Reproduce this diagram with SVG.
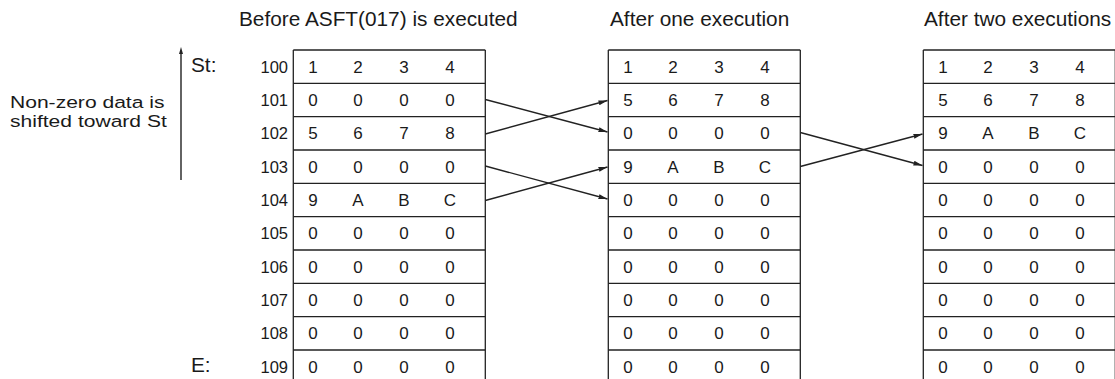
<svg xmlns="http://www.w3.org/2000/svg" width="1115" height="379" viewBox="0 0 1115 379">
<style>
text{font-family:"Liberation Sans",Arial,sans-serif;fill:#1a1a1a}
.t{font-size:20.8px}
.s{font-size:17px}
.c{font-size:17px;text-anchor:middle}
.a{font-size:16.5px;text-anchor:end}
.g{stroke:#222;stroke-width:1.3;fill:none}
.w{stroke:#222;stroke-width:1.4}
</style>
<defs>
<marker id="ah" markerWidth="10" markerHeight="6" refX="9" refY="3" orient="auto" markerUnits="userSpaceOnUse">
<path d="M0,0.5 L9,3 L0,5.5z" fill="#222"/>
</marker>
<g id="rows">
<line x1="0" y1="0" x2="192" y2="0"/>
<line x1="0" y1="33.33" x2="192" y2="33.33"/>
<line x1="0" y1="66.67" x2="192" y2="66.67"/>
<line x1="0" y1="100" x2="192" y2="100"/>
<line x1="0" y1="133.33" x2="192" y2="133.33"/>
<line x1="0" y1="166.67" x2="192" y2="166.67"/>
<line x1="0" y1="200" x2="192" y2="200"/>
<line x1="0" y1="233.33" x2="192" y2="233.33"/>
<line x1="0" y1="266.67" x2="192" y2="266.67"/>
<line x1="0" y1="300" x2="192" y2="300"/>
<line x1="0" y1="0" x2="0" y2="340"/>
<line x1="192" y1="0" x2="192" y2="340"/>
</g>
</defs>

<g id="titles">
<text class="t" x="239" y="26">Before ASFT(017) is executed</text>
<text class="t" x="610" y="26">After one execution</text>
<text class="t" x="924" y="26">After two executions</text>
</g>

<g id="side">
<g transform="translate(10,0) scale(1.24,1)">
<text class="s" x="0" y="108.5">Non-zero data is</text>
<text class="s" x="0" y="127.5">shifted toward St</text>
</g>
<line class="w" x1="181" y1="180" x2="181" y2="52"/>
<path d="M181,47 L179,54 L183,54z" fill="#222"/>
<text class="t" x="191" y="72">St:</text>
<text class="t" x="191" y="372">E:</text>
</g>

<g id="addresses">
<text class="a" x="288" y="73">100</text>
<text class="a" x="288" y="106">101</text>
<text class="a" x="288" y="139">102</text>
<text class="a" x="288" y="173">103</text>
<text class="a" x="288" y="206">104</text>
<text class="a" x="288" y="239">105</text>
<text class="a" x="288" y="273">106</text>
<text class="a" x="288" y="306">107</text>
<text class="a" x="288" y="339">108</text>
<text class="a" x="288" y="373">109</text>
</g>

<g id="table1">
<use href="#rows" x="293.3" y="50" class="g"/>
<g class="c">
<text x="313" y="73">1</text><text x="358" y="73">2</text><text x="404" y="73">3</text><text x="450" y="73">4</text>
<text x="313" y="106">0</text><text x="358" y="106">0</text><text x="404" y="106">0</text><text x="450" y="106">0</text>
<text x="313" y="139">5</text><text x="358" y="139">6</text><text x="404" y="139">7</text><text x="450" y="139">8</text>
<text x="313" y="173">0</text><text x="358" y="173">0</text><text x="404" y="173">0</text><text x="450" y="173">0</text>
<text x="313" y="206">9</text><text x="358" y="206">A</text><text x="404" y="206">B</text><text x="450" y="206">C</text>
<text x="313" y="239">0</text><text x="358" y="239">0</text><text x="404" y="239">0</text><text x="450" y="239">0</text>
<text x="313" y="273">0</text><text x="358" y="273">0</text><text x="404" y="273">0</text><text x="450" y="273">0</text>
<text x="313" y="306">0</text><text x="358" y="306">0</text><text x="404" y="306">0</text><text x="450" y="306">0</text>
<text x="313" y="339">0</text><text x="358" y="339">0</text><text x="404" y="339">0</text><text x="450" y="339">0</text>
<text x="313" y="373">0</text><text x="358" y="373">0</text><text x="404" y="373">0</text><text x="450" y="373">0</text>
</g>
</g>

<g id="table2">
<use href="#rows" x="608.3" y="50" class="g"/>
<g class="c">
<text x="628" y="73">1</text><text x="673" y="73">2</text><text x="719" y="73">3</text><text x="765" y="73">4</text>
<text x="628" y="106">5</text><text x="673" y="106">6</text><text x="719" y="106">7</text><text x="765" y="106">8</text>
<text x="628" y="139">0</text><text x="673" y="139">0</text><text x="719" y="139">0</text><text x="765" y="139">0</text>
<text x="628" y="173">9</text><text x="673" y="173">A</text><text x="719" y="173">B</text><text x="765" y="173">C</text>
<text x="628" y="206">0</text><text x="673" y="206">0</text><text x="719" y="206">0</text><text x="765" y="206">0</text>
<text x="628" y="239">0</text><text x="673" y="239">0</text><text x="719" y="239">0</text><text x="765" y="239">0</text>
<text x="628" y="273">0</text><text x="673" y="273">0</text><text x="719" y="273">0</text><text x="765" y="273">0</text>
<text x="628" y="306">0</text><text x="673" y="306">0</text><text x="719" y="306">0</text><text x="765" y="306">0</text>
<text x="628" y="339">0</text><text x="673" y="339">0</text><text x="719" y="339">0</text><text x="765" y="339">0</text>
<text x="628" y="373">0</text><text x="673" y="373">0</text><text x="719" y="373">0</text><text x="765" y="373">0</text>
</g>
</g>

<g id="table3">
<use href="#rows" x="923.3" y="50" class="g"/>
<g class="c">
<text x="943" y="73">1</text><text x="988" y="73">2</text><text x="1034" y="73">3</text><text x="1080" y="73">4</text>
<text x="943" y="106">5</text><text x="988" y="106">6</text><text x="1034" y="106">7</text><text x="1080" y="106">8</text>
<text x="943" y="139">9</text><text x="988" y="139">A</text><text x="1034" y="139">B</text><text x="1080" y="139">C</text>
<text x="943" y="173">0</text><text x="988" y="173">0</text><text x="1034" y="173">0</text><text x="1080" y="173">0</text>
<text x="943" y="206">0</text><text x="988" y="206">0</text><text x="1034" y="206">0</text><text x="1080" y="206">0</text>
<text x="943" y="239">0</text><text x="988" y="239">0</text><text x="1034" y="239">0</text><text x="1080" y="239">0</text>
<text x="943" y="273">0</text><text x="988" y="273">0</text><text x="1034" y="273">0</text><text x="1080" y="273">0</text>
<text x="943" y="306">0</text><text x="988" y="306">0</text><text x="1034" y="306">0</text><text x="1080" y="306">0</text>
<text x="943" y="339">0</text><text x="988" y="339">0</text><text x="1034" y="339">0</text><text x="1080" y="339">0</text>
<text x="943" y="373">0</text><text x="988" y="373">0</text><text x="1034" y="373">0</text><text x="1080" y="373">0</text>
</g>
</g>

<g id="connectors" class="w" marker-end="url(#ah)">
<line x1="485.3" y1="99.5" x2="607.5" y2="132"/>
<line x1="485.3" y1="134" x2="607.5" y2="100.5"/>
<line x1="485.3" y1="166" x2="607.5" y2="199"/>
<line x1="485.3" y1="200.5" x2="607.5" y2="167"/>
<line x1="800.3" y1="132.5" x2="922.5" y2="165.5"/>
<line x1="800.3" y1="166.5" x2="922.5" y2="134"/>
</g>
</svg>
